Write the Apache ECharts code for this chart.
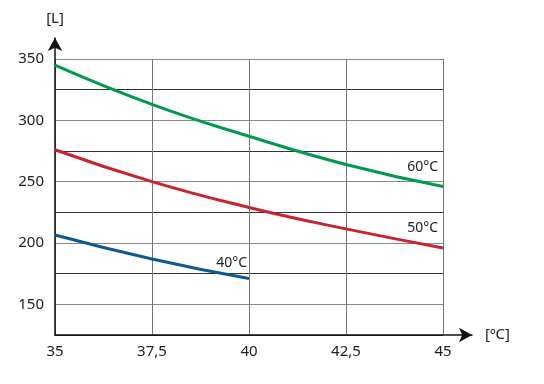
<!DOCTYPE html>
<html><head><meta charset="utf-8">
<script src="https://cdn.jsdelivr.net/npm/echarts@6/dist/echarts.min.js"></script>
<style>html,body{margin:0;padding:0;background:#fff}#c{width:544px;height:384px}</style>
</head><body><div id="c"></div>
<script>
const xValues = [35, 37.5, 40, 42.5, 45];
const s60 = [345, 313, 287, 264, 246];
const s50 = [276, 250, 229, 211.5, 196];
const s40 = [206.5, 187, 171];
const seriesNames = ['60°C', '50°C', '40°C'];
const yTickLabels = [150, 200, 250, 300, 350];
const xTickLabels = ['35', '37,5', '40', '42,5', '45'];

const FONT = 'Noto Sans';
const chart = echarts.init(document.getElementById('c'));
function pairs(vals){ return vals.map((v,i)=>[xValues[i], v]); }
function lineSeries(idx, vals, color, off){
  return {name:seriesNames[idx], type:'line', smooth:true, symbol:'none',
    xAxisIndex:0, yAxisIndex:0,
    lineStyle:{color:color, width:3}, itemStyle:{color:color},
    endLabel:{show:true, color:'#222', fontFamily:FONT, fontSize:14, formatter:seriesNames[idx],
      align:'right', verticalAlign:'middle', distance:0, offset:off},
    data:pairs(vals)};
}
chart.setOption({
  animation:false,
  grid:[
    {left:55, right:101, top:59, bottom:49},
    {left:55, right:72, top:38, bottom:49}
  ],
  xAxis:[
    {type:'value', gridIndex:0, min:35, max:45, interval:2.5,
     axisLine:{show:false}, axisTick:{show:false},
     axisLabel:{color:'#222', fontFamily:FONT, fontSize:15, margin:9,
       formatter:v=>{const i=xValues.indexOf(v); return i>=0?xTickLabels[i]:'';}},
     splitLine:{show:true, lineStyle:{color:'#777', width:1}}},
    {type:'value', gridIndex:1, min:0, max:1,
     axisLine:{show:true, symbol:['none','arrow'], symbolSize:[11,13], lineStyle:{color:'#111', width:1.5}},
     axisTick:{show:false}, axisLabel:{show:false}, splitLine:{show:false},
     name:'[ºC]', nameLocation:'end', nameGap:13,
     nameTextStyle:{color:'#222', fontFamily:FONT, fontSize:15}}
  ],
  yAxis:[
    {type:'value', gridIndex:0, min:125, max:350, interval:25,
     axisLine:{show:false}, axisTick:{show:false},
     axisLabel:{color:'#222', fontFamily:FONT, fontSize:15, margin:11,
       formatter:v=> yTickLabels.indexOf(v)>=0 ? String(v) : ''},
     splitLine:{show:true, lineStyle:{color:['#333','#888'], width:1}}},
    {type:'value', gridIndex:1, min:0, max:1,
     axisLine:{show:true, symbol:['none','arrow'], symbolSize:[11,13], lineStyle:{color:'#111', width:1.5}},
     axisTick:{show:false}, axisLabel:{show:false}, splitLine:{show:false},
     name:'[L]', nameLocation:'end', nameGap:12,
     nameTextStyle:{color:'#222', fontFamily:FONT, fontSize:15}}
  ],
  series:[
    lineSeries(0, s60, '#009a4e', [-5,-20]),
    lineSeries(1, s50, '#c9232f', [-5,-20]),
    lineSeries(2, s40, '#0b5a94', [-2,-16])
  ]
});
</script></body></html>
